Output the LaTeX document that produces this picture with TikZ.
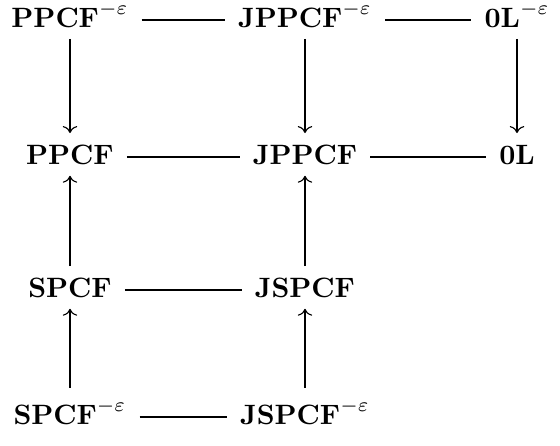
\documentclass[tikz,border=0pt]{standalone}
\usetikzlibrary{cd}
\begin{document}
\begin{tikzpicture}[x=0.357pt,y=-0.357pt,
  obj/.style={shape=asymmetrical rectangle, inner xsep=0.45em, inner ysep=0.4em},
  arr/.style={-{cm to}},
  link/.style={-}]
\useasboundingbox (0,0) rectangle (560,445);
\node[obj] (a1) at (70,20) {$\mathbf{PPCF}^{-\varepsilon}$};
\node[obj] (a2) at (305,20) {$\mathbf{JPPCF}^{-\varepsilon}$};
\node[obj] (a3) at (517,20) {$\mathbf{0L}^{-\varepsilon}$};
\node[obj] (b1) at (70,157) {$\mathbf{PPCF}$};
\node[obj] (b2) at (305,157) {$\mathbf{JPPCF}$};
\node[obj] (b3) at (517,157) {$\mathbf{0L}$};
\node[obj] (c1) at (70,290) {$\mathbf{SPCF}$};
\node[obj] (c2) at (305,290) {$\mathbf{JSPCF}$};
\node[obj] (d1) at (70,417) {$\mathbf{SPCF}^{-\varepsilon}$};
\node[obj] (d2) at (305,417) {$\mathbf{JSPCF}^{-\varepsilon}$};
\draw[link] (a1) -- (a2);
\draw[link] (a2) -- (a3);
\draw[link] (b1) -- (b2);
\draw[link] (b2) -- (b3);
\draw[link] (c1) -- (c2);
\draw[link] (d1) -- (d2);
\draw[arr] (a1) -- (b1);
\draw[arr] (a2) -- (b2);
\draw[arr] (a3) -- (b3);
\draw[arr] (c1) -- (b1);
\draw[arr] (c2) -- (b2);
\draw[arr] (d1) -- (c1);
\draw[arr] (d2) -- (c2);
\end{tikzpicture}
\end{document}
